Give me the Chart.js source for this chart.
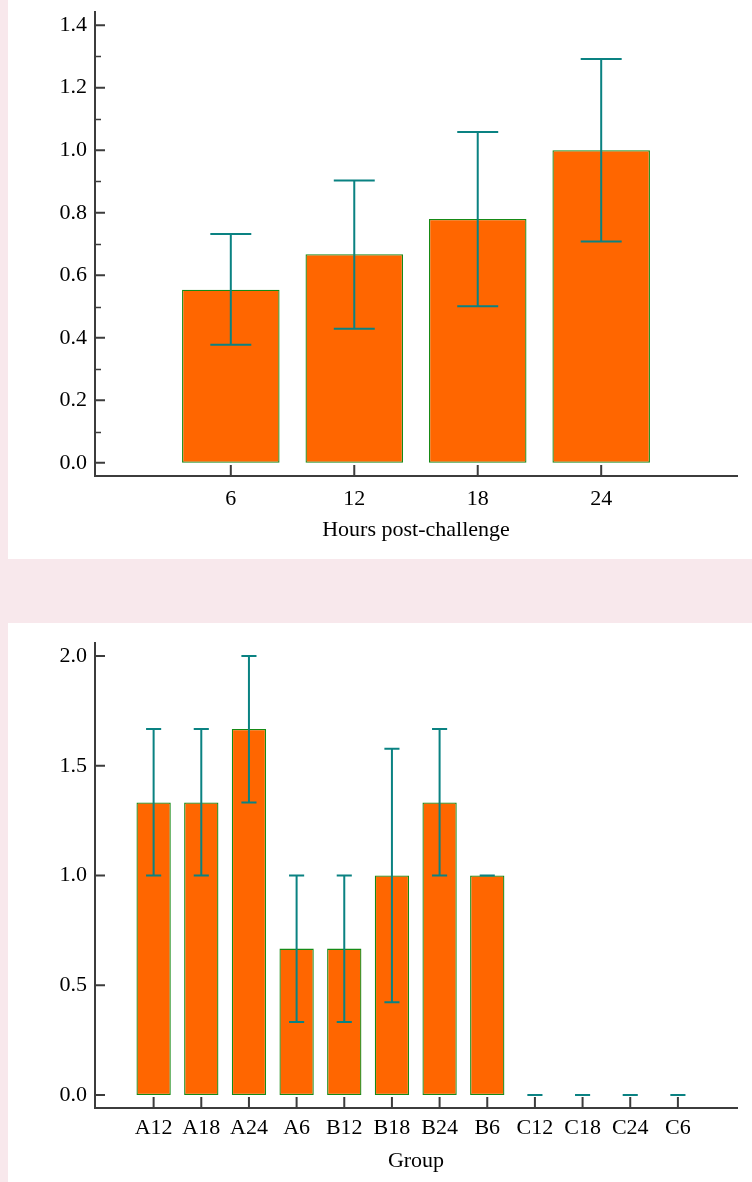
<!DOCTYPE html>
<html><head><meta charset="utf-8">
<script src="https://cdn.jsdelivr.net/npm/chart.js@4.4.1/dist/chart.umd.min.js"></script>
<style>
html,body{margin:0;padding:0;}
body{width:752px;height:1182px;background:#f8e8ec;position:relative;overflow:hidden;}
.panel{position:absolute;left:8px;width:744px;height:559px;background:#fff;}
canvas{position:absolute;left:0;}
</style></head><body>
<div class="panel" style="top:0"></div>
<div class="panel" style="top:623px"></div>
<canvas id="c1" width="752" height="559" style="top:0"></canvas>
<canvas id="c2" width="752" height="559" style="top:623px"></canvas>
<script>
// ---- data ----
const hours = ['6', '12', '18', '24'];
const hoursMean = [0.554, 0.667, 0.780, 1.000];
const hoursLow = [0.378, 0.429, 0.501, 0.708];
const hoursHigh = [0.732, 0.903, 1.058, 1.292];
const hoursYTicks = [0, 0.2, 0.4, 0.6, 0.8, 1.0, 1.2, 1.4];
const hoursYMinor = [0.1, 0.3, 0.5, 0.7, 0.9, 1.1, 1.3];

const groups = ['A12', 'A18', 'A24', 'A6', 'B12', 'B18', 'B24', 'B6', 'C12', 'C18', 'C24', 'C6'];
const groupMean = [1.333, 1.333, 1.667, 0.667, 0.667, 1.0, 1.333, 1.0, 0, 0, 0, 0];
const groupLow = [1.0, 1.0, 1.333, 0.333, 0.333, 0.423, 1.0, 1.0, 0, 0, 0, 0];
const groupHigh = [1.667, 1.667, 2.0, 1.0, 1.0, 1.577, 1.667, 1.0, 0, 0, 0, 0];
const groupYTicks = [0, 0.5, 1.0, 1.5, 2.0];
const groupYMinor = [];

// ---- style ----
const FAMILY = "'Liberation Serif', 'Times New Roman', serif";
const FONT = {family: FAMILY, size: 22};
const YFONT = {family: FAMILY, size: 22, lineHeight: 1};
const AXIS = '#3c3c3c';
const BAR = '#ff6600';
const BAR_EDGE = '#168a16';
const ERR = '#0a8282';

function makeChart(id, c) {
  const tickPlugin = {
    id: 'axisTicks',
    afterDraw(chart) {
      const {ctx, scales: {x, y}} = chart;
      ctx.save();
      ctx.strokeStyle = AXIS;
      ctx.lineWidth = 2;
      ctx.beginPath();
      y.ticks.forEach(t => {
        const py = y.getPixelForValue(t.value);
        ctx.moveTo(y.right, py); ctx.lineTo(y.right + 10, py);
      });
      x.ticks.forEach(t => {
        const px = x.getPixelForValue(t.value);
        ctx.moveTo(px, x.top); ctx.lineTo(px, x.top - 11);
      });
      ctx.stroke();
      ctx.lineWidth = 1.3;
      ctx.beginPath();
      c.yMinor.forEach(v => {
        const py = Math.round(y.getPixelForValue(v)) + 0.5;
        ctx.moveTo(y.right, py); ctx.lineTo(y.right + 6, py);
      });
      ctx.stroke();
      ctx.restore();
    }
  };
  const errPlugin = {
    id: 'errBars',
    afterDatasetsDraw(chart) {
      const {ctx, scales: {x, y}} = chart;
      const meta = chart.getDatasetMeta(0);
      ctx.save();
      ctx.strokeStyle = ERR;
      ctx.lineWidth = 2;
      meta.data.forEach((bar, i) => {
        const px = x.getPixelForValue(i);
        const yl = y.getPixelForValue(c.low[i]);
        const yh = y.getPixelForValue(c.high[i]);
        const hw = bar.width * c.capFrac / 2;
        ctx.beginPath();
        ctx.moveTo(px, yl); ctx.lineTo(px, yh);
        ctx.moveTo(px - hw, yl); ctx.lineTo(px + hw, yl);
        ctx.moveTo(px - hw, yh); ctx.lineTo(px + hw, yh);
        ctx.stroke();
      });
      ctx.restore();
    }
  };
  return new Chart(document.getElementById(id), {
    type: 'bar',
    data: {
      datasets: [{
        data: c.labels.map((l, i) => ({x: i, y: c.mean[i]})),
        backgroundColor: BAR,
        borderColor: BAR_EDGE,
        borderWidth: ctx => (ctx.raw && ctx.raw.y === 0) ? 0 : 1.3,
        borderSkipped: false,
        barPercentage: c.barPct,
        categoryPercentage: 1
      }]
    },
    options: {
      responsive: false,
      animation: false,
      devicePixelRatio: 1,
      layout: {padding: {left: 0, right: 15, top: c.padTop, bottom: 0}},
      plugins: {legend: {display: false}, tooltip: {enabled: false}},
      scales: {
        x: {
          type: 'linear', offset: false, min: c.xMin, max: c.xMax,
          afterBuildTicks: s => { s.ticks = c.labels.map((l, i) => ({value: i})); },
          afterFit: s => { s.height = c.xAxisH; s.paddingLeft = 0; s.paddingRight = 0; },
          ticks: {callback: v => c.labels[v], font: FONT, color: '#000', padding: c.xLabPad, maxRotation: 0, autoSkip: false},
          grid: {display: false, drawOnChartArea: false, drawTicks: false},
          border: {display: true, color: AXIS, width: 2},
          title: {display: true, text: c.xTitle, font: FONT, color: '#000', padding: {top: 0, bottom: c.titlePadB}}
        },
        y: {
          min: c.yMin, max: c.yMax,
          afterBuildTicks: s => { s.ticks = c.yTicks.map(v => ({value: v})); },
          afterFit: s => { s.width = 95; s.paddingTop = 0; s.paddingBottom = 0; },
          ticks: {callback: v => Number(v).toFixed(1), font: YFONT, color: '#000', padding: 8},
          grid: {display: false, drawOnChartArea: false, drawTicks: false},
          border: {display: true, color: AXIS, width: 2}
        }
      }
    },
    plugins: [errPlugin, tickPlugin]
  });
}

makeChart('c1', {
  labels: hours, mean: hoursMean, low: hoursLow, high: hoursHigh,
  yTicks: hoursYTicks, yMinor: hoursYMinor, yMin: -0.042, yMax: 1.442,
  xMin: -1.1, xMax: 4.1, barPct: 0.79, capFrac: 0.42,
  padTop: 12, xAxisH: 83, xLabPad: 10, titlePadB: 16,
  xTitle: 'Hours post-challenge'
});

makeChart('c2', {
  labels: groups, mean: groupMean, low: groupLow, high: groupHigh,
  yTicks: groupYTicks, yMinor: groupYMinor, yMin: -0.059, yMax: 2.059,
  xMin: -1.23, xMax: 12.24, barPct: 0.72, capFrac: 0.44,
  padTop: 20, xAxisH: 74, xLabPad: 7, titlePadB: 8,
  xTitle: 'Group'
});
</script>
</body></html>
